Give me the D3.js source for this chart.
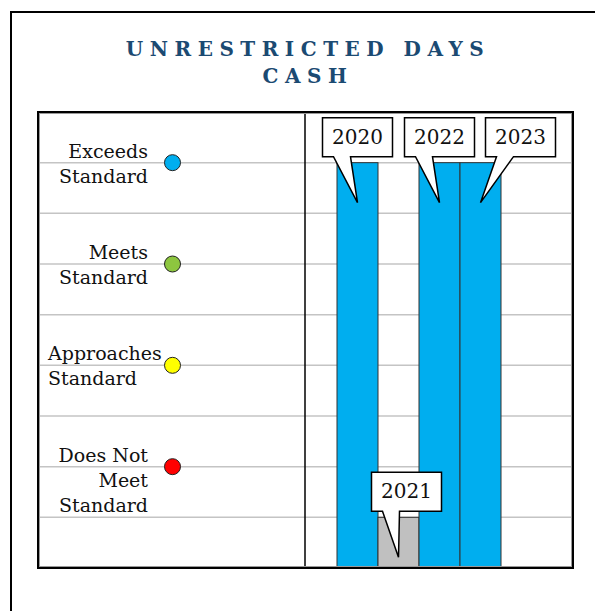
<!DOCTYPE html>
<html>
<head>
<meta charset="utf-8">
<script src="https://d3js.org/d3.v7.min.js"></script>
<style>
  body { margin: 0; background: #fff; }
  svg { display: block; }
</style>
</head>
<body>
<svg width="595" height="611"></svg>
<script>
// Data
var years = ["2020", "2021", "2022", "2023"];
var yearValues = [8, 1, 8, 8];
var yearColors = ["#00AEEF", "#C0C0C0", "#00AEEF", "#00AEEF"];
var calloutShift = [0, 8, 0, 40];

var levelLabels = [["Does Not", "Meet", "Standard"], ["Approaches", "Standard"], ["Meets", "Standard"], ["Exceeds", "Standard"]];
var levelValues = [2, 4, 6, 8];
var levelColors = ["#FF0000", "#FFFF00", "#8DC63F", "#00AEEF"];
var gridValues = [1, 2, 3, 4, 5, 6, 7, 8];

var titleLines = ["UNRESTRICTED DAYS", "CASH"];

// Layout (note: "top" is taken by window.top, so use plotTop etc.)
var svg = d3.select("svg");
var plotLeft = 38, plotRight = 573, plotTop = 112, plotBottom = 568, divider = 305;
var serif = "'DejaVu Serif', serif";

var y = d3.scaleLinear().domain([0, 9]).range([plotBottom, plotTop]);
var x = d3.scaleBand().domain(years).range([337, 501]).padding(0);

// Outer frame
svg.append("rect")
    .attr("x", 11).attr("y", 12)
    .attr("width", 600).attr("height", 620)
    .attr("fill", "none").attr("stroke", "#000").attr("stroke-width", 2);

// Title
svg.append("g").selectAll("text")
    .data(titleLines)
    .enter().append("text")
        .attr("x", 308)
        .attr("y", function (d, i) { return 56 + i * 27; })
        .attr("text-anchor", "middle")
        .attr("font-family", serif)
        .attr("font-weight", "bold")
        .attr("font-size", 20)
        .attr("letter-spacing", 6.5)
        .attr("fill", "#1B4A72")
        .text(function (d) { return d; });

// Gridlines
svg.append("g")
    .attr("class", "grid")
    .selectAll("line")
    .data(gridValues)
    .enter().append("line")
        .attr("x1", plotLeft).attr("x2", plotRight)
        .attr("y1", function (d) { return y(d); })
        .attr("y2", function (d) { return y(d); })
        .attr("stroke", "#C4C4C4").attr("stroke-width", 1.5);

// Bars
svg.append("g")
    .selectAll("rect")
    .data(years)
    .enter().append("rect")
        .attr("x", function (d) { return x(d); })
        .attr("y", function (d, i) { return y(yearValues[i]); })
        .attr("width", x.bandwidth())
        .attr("height", function (d, i) { return y(0) - y(yearValues[i]); })
        .attr("fill", function (d, i) { return yearColors[i]; })
        .attr("stroke", "#333").attr("stroke-width", 1);

// Divider and chart frame
svg.append("line")
    .attr("x1", divider).attr("x2", divider)
    .attr("y1", plotTop).attr("y2", plotBottom)
    .attr("stroke", "#000").attr("stroke-width", 1.5);
svg.append("rect")
    .attr("x", plotLeft + 1.5).attr("y", plotTop + 1.5)
    .attr("width", plotRight - plotLeft - 3).attr("height", plotBottom - plotTop - 3)
    .attr("fill", "none").attr("stroke", "#999").attr("stroke-width", 1);
svg.append("rect")
    .attr("x", plotLeft).attr("y", plotTop)
    .attr("width", plotRight - plotLeft).attr("height", plotBottom - plotTop)
    .attr("fill", "none").attr("stroke", "#000").attr("stroke-width", 2);

// Level dots
svg.append("g")
    .selectAll("circle")
    .data(levelValues)
    .enter().append("circle")
        .attr("cx", 172.5)
        .attr("cy", function (d) { return y(d); })
        .attr("r", 8)
        .attr("fill", function (d, i) { return levelColors[i]; })
        .attr("stroke", "#222").attr("stroke-width", 1);

// Level labels
var labels = svg.append("g")
    .selectAll("text")
    .data(levelValues)
    .enter().append("text")
        .attr("font-family", serif)
        .attr("font-size", 19)
        .attr("fill", "#111")
        .attr("text-anchor", function (d, i) { return levelLabels[i][0].length > 8 ? "start" : "end"; });
labels.each(function (d, i) {
    var t = d3.select(this);
    var lx = levelLabels[i][0].length > 8 ? 48 : 148;
    levelLabels[i].forEach(function (line, k) {
        t.append("tspan")
            .attr("x", lx)
            .attr("y", y(d) - 5 + k * 25)
            .text(line);
    });
});

// Year callouts
var callouts = svg.append("g")
    .selectAll("g")
    .data(years)
    .enter().append("g");

callouts.append("path")
    .attr("d", function (d, i) {
        var bx = x(d) + x.bandwidth() / 2;
        var by = y(yearValues[i]);
        var cx = bx + calloutShift[i];
        var x0 = cx - 35, x1 = cx + 35, y0 = by - 45, y1 = by - 6;
        return "M" + x0 + "," + y0 + "L" + x1 + "," + y0 + "L" + x1 + "," + y1 +
            "L" + (cx - 7) + "," + y1 + "L" + bx + "," + (by + 40) +
            "L" + (cx - 24) + "," + y1 + "L" + x0 + "," + y1 + "Z";
    })
    .attr("fill", "#fff")
    .attr("stroke", "#000").attr("stroke-width", 1.5)
    .attr("stroke-linejoin", "miter");

callouts.append("text")
    .attr("x", function (d, i) { return x(d) + x.bandwidth() / 2 + calloutShift[i]; })
    .attr("y", function (d, i) { return y(yearValues[i]) - 19; })
    .attr("text-anchor", "middle")
    .attr("font-family", serif)
    .attr("font-size", 20)
    .attr("fill", "#111")
    .text(function (d) { return d; });
</script>
</body>
</html>
